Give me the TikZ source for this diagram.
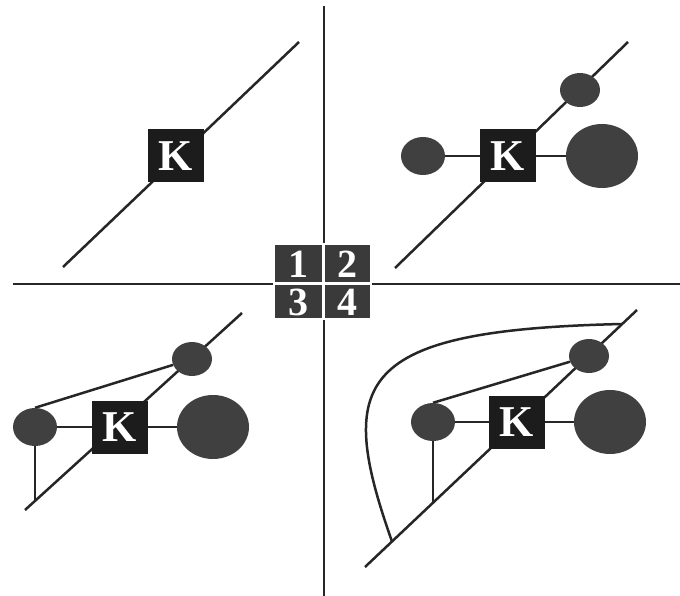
\documentclass[tikz,border=0pt]{standalone}
\usepackage{fontspec}
\setmainfont{Liberation Serif}
\usetikzlibrary{shapes.geometric,backgrounds}
\definecolor{kfill}{HTML}{1C1C1C}
\definecolor{ballfill}{HTML}{404040}
\definecolor{numfill}{HTML}{3A3A3A}
\begin{document}
\begin{tikzpicture}[x=1pt,y=-1pt,
  kbox/.style={fill=kfill,text=white,minimum width=56pt,minimum height=53pt,inner sep=0pt,font=\bfseries\fontsize{44}{44}\selectfont},
  sball/.style={ellipse,fill=ballfill,minimum width=40pt,minimum height=34pt,inner sep=0pt},
  mball/.style={ellipse,fill=ballfill,minimum width=44pt,minimum height=38pt,inner sep=0pt},
  bball/.style={ellipse,fill=ballfill,minimum width=72pt,minimum height=64pt,inner sep=0pt},
  wire/.style={line width=2.5pt,draw=black!85},
  numsq/.style={fill=numfill,text=white,inner sep=0pt,text height=27pt,text depth=0pt,font=\bfseries\fontsize{40}{40}\selectfont}]
\useasboundingbox (0,0) rectangle (680,596);

% axes end points
\coordinate (vt) at (324,6);
\coordinate (vb) at (324,596);
\coordinate (hl) at (13,284);
\coordinate (hr) at (680,284);

% quadrant 1
\coordinate (a1s) at (63,267);
\coordinate (a1e) at (299,42);
\node[kbox] (k1) at (176,156) {K};

% quadrant 2
\coordinate (a2s) at (395,268);
\coordinate (a2e) at (628,42);
\node[kbox] (k2) at (508,156) {K};
\node[mball] (l2) at (423,156) {};
\node[bball] (r2) at (602,156) {};
\node[sball] (s2) at (580,90) {};

% quadrant 3
\coordinate (a3s) at (25,510);
\coordinate (a3e) at (242,313);
\node[kbox] (k3) at (120,427) {K};
\node[mball] (l3) at (35,427) {};
\node[bball] (r3) at (213,427) {};
\node[sball] (s3) at (192,359) {};
\coordinate (f3) at (35,501);

% quadrant 4
\coordinate (a4s) at (365,567);
\coordinate (a4e) at (637,310);
\node[kbox] (k4) at (517,422) {K};
\node[mball] (l4) at (433,422) {};
\node[bball] (r4) at (610,422) {};
\node[sball] (s4) at (589,356) {};
\coordinate (f4) at (433,503);
\coordinate (c4s) at (392,541.5);
\coordinate (c4e) at (622,324);

% centre squares
\node[fill=white,minimum width=99pt,minimum height=77pt,inner sep=0pt] (patch) at (322.5,281.5) {};
\node[numsq,minimum width=47pt,minimum height=37pt] (n1) at (298.5,263.5) {1};
\node[numsq,minimum width=45pt,minimum height=37pt] (n2) at (347.5,263.5) {2};
\node[numsq,minimum width=47pt,minimum height=33pt] (n3) at (298.5,301.5) {3};
\node[numsq,minimum width=45pt,minimum height=33pt] (n4) at (347.5,301.5) {4};

\begin{scope}[on background layer]
  \fill[white] (0,0) rectangle (680,596);
  \draw[wire] (vt) -- (vb);
  \draw[wire] (hl) -- (hr);
  \draw[wire] (a1s) -- (a1e);
  \draw[wire] (a2s) -- (a2e);
  \draw[wire] (l2) -- (r2);
  \draw[wire] (a3s) -- (a3e);
  \draw[wire] (l3) -- (r3);
  \draw[wire] (l3.north) -- (s3);
  \draw[wire] (l3) -- (f3);
  \draw[wire] (a4s) -- (a4e);
  \draw[wire] (l4) -- (r4);
  \draw[wire] (l4.north) -- (s4);
  \draw[wire] (l4) -- (f4);
  \draw[wire] (c4s) .. controls (335,380) and (355,330) .. (c4e);
\end{scope}
\end{tikzpicture}
\end{document}
